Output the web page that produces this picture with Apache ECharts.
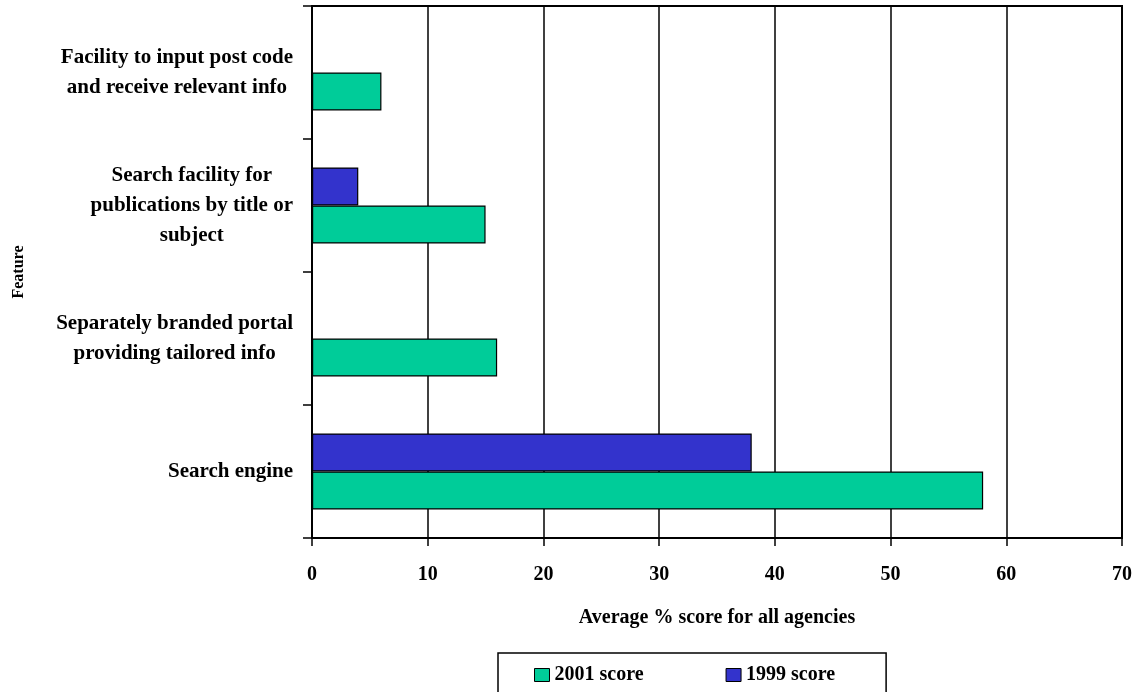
<!DOCTYPE html>
<html>
<head>
<meta charset="utf-8">
<title>Website features – average % score</title>
<script src="https://cdn.jsdelivr.net/npm/echarts@6/dist/echarts.min.js"></script>
<style>
  html, body { margin: 0; padding: 0; background: #ffffff; }
  #chart { width: 1141px; height: 692px; }
</style>
</head>
<body>
<div id="chart"></div>
<script>
// Features, listed from the bottom of the axis to the top
const features = [
  'Search engine',
  'Separately branded portal\nproviding tailored info',
  'Search facility for\npublications by title or\nsubject',
  'Facility to input post code\nand receive relevant info'
];
const score2001 = [58, 16, 15, 6];
const score1999 = [38, null, 4, null];
const xTicks = [0, 10, 20, 30, 40, 50, 60, 70];

const SERIF = '"Liberation Serif", "Times New Roman", "DejaVu Serif", serif';
const GREEN = '#00CC99';
const BLUE = '#3333CC';

const chart = echarts.init(document.getElementById('chart'), null, { renderer: 'canvas' });

chart.setOption({
  backgroundColor: '#ffffff',
  animation: false,
  grid: {
    left: 312, right: 19, top: 6, bottom: 154,
    show: true,
    borderColor: '#000',
    borderWidth: 2,
    backgroundColor: 'transparent'
  },
  legend: {
    data: ['2001 score', '1999 score'],
    left: 498,
    top: 653,
    padding: [12, 51, 10, 36],
    itemGap: 82,
    itemWidth: 15,
    itemHeight: 13,
    icon: 'rect',
    borderColor: '#000',
    borderWidth: 1.5,
    textStyle: { fontFamily: SERIF, fontWeight: 'bold', fontSize: 20, color: '#000' },
    itemStyle: { borderColor: '#000', borderWidth: 1 }
  },
  xAxis: {
    type: 'value',
    min: xTicks[0],
    max: xTicks[xTicks.length - 1],
    interval: 10,
    name: 'Average % score for all agencies',
    nameLocation: 'middle',
    nameGap: 70,
    nameTextStyle: { fontFamily: SERIF, fontWeight: 'bold', fontSize: 20, color: '#000' },
    axisLine: { show: true, lineStyle: { color: '#000', width: 2 } },
    axisTick: { show: true, length: 8, lineStyle: { color: '#000', width: 1.5 } },
    axisLabel: {
      margin: 27,
      fontFamily: SERIF, fontWeight: 'bold', fontSize: 20, color: '#000'
    },
    splitLine: { show: true, lineStyle: { color: '#000', width: 1.5 } }
  },
  yAxis: {
    type: 'category',
    data: features,
    name: 'Feature',
    nameLocation: 'middle',
    nameGap: 285,
    nameRotate: 90,
    nameTextStyle: { fontFamily: SERIF, fontWeight: 'bold', fontSize: 16, color: '#000' },
    axisLine: { show: true, lineStyle: { color: '#000', width: 2 } },
    axisTick: { show: true, length: 9, lineStyle: { color: '#000', width: 1.5 } },
    axisLabel: {
      margin: 19,
      align: 'right',
      formatter: function (value) {
        return value.split('\n').map(function (line) { return '{c|' + line + '}'; }).join('\n');
      },
      rich: {
        c: {
          align: 'center',
          fontFamily: SERIF, fontWeight: 'bold', fontSize: 21, color: '#000',
          lineHeight: 30
        }
      }
    },
    splitLine: { show: false }
  },
  // 1999 is listed first so that it sits above 2001 inside each band
  series: [
    {
      name: '1999 score',
      type: 'bar',
      data: score1999,
      barWidth: 38,
      barGap: '0%',
      itemStyle: { color: BLUE, borderColor: '#000', borderWidth: 1.2 }
    },
    {
      name: '2001 score',
      type: 'bar',
      data: score2001,
      barWidth: 38,
      barGap: '0%',
      itemStyle: { color: GREEN, borderColor: '#000', borderWidth: 1.2 }
    }
  ]
});
</script>
</body>
</html>
